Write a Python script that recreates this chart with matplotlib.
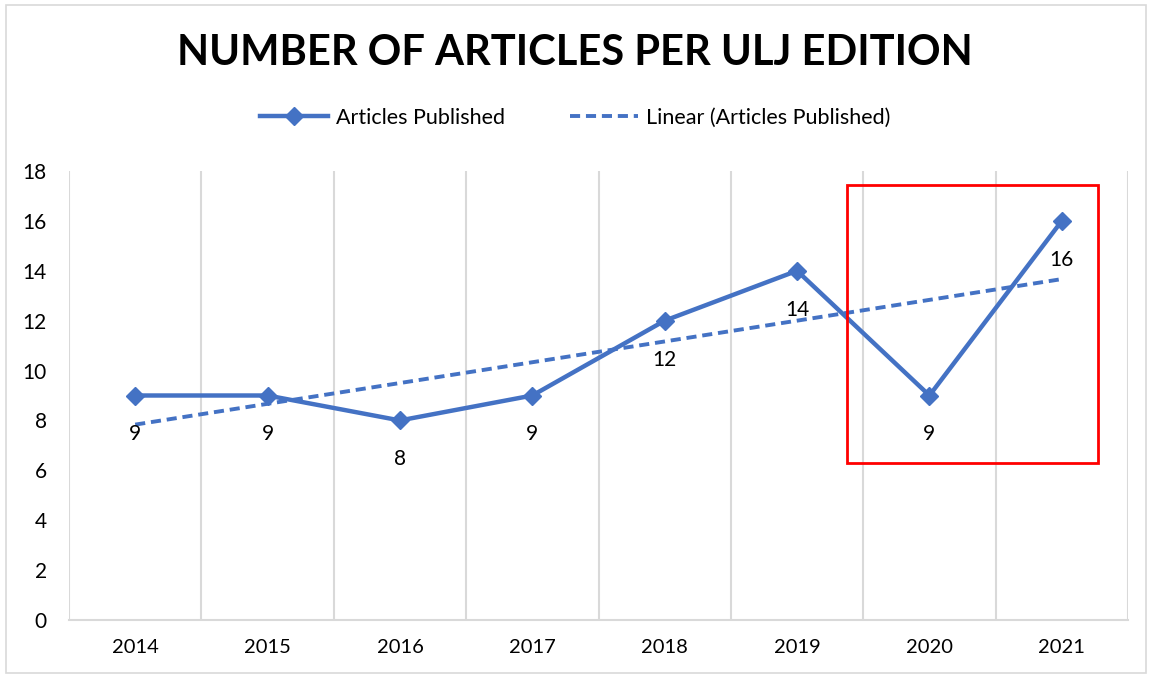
import matplotlib
matplotlib.use("Agg")
import matplotlib.pyplot as plt
from matplotlib.patches import Rectangle
from matplotlib.lines import Line2D
import numpy as np

years = ["2014", "2015", "2016", "2017", "2018", "2019", "2020", "2021"]
articles = [9, 9, 8, 9, 12, 14, 9, 16]
yticks = [0, 2, 4, 6, 8, 10, 12, 14, 16, 18]
title = "NUMBER OF ARTICLES PER ULJ EDITION"
series_name = "Articles Published"
trend_name = "Linear (Articles Published)"

BLUE = "#4472C4"
GRID = "#D9D9D9"
FONT = "Lato"

plt.rcParams["font.family"] = [FONT, "DejaVu Sans"]

fig = plt.figure(figsize=(11.5, 6.75), dpi=100)
ax = fig.add_axes([69/1150, 1-620/675, (1128-69)/1150, (620-171)/675])

x = np.arange(len(years))
coef = np.polyfit(x, articles, 1)
trend = np.polyval(coef, x)

DASH = (0, (2.6, 1.5))
ax.plot(x, trend, color=BLUE, lw=2.8, ls=DASH, zorder=3)
ax.plot(x, articles, color=BLUE, lw=3.2, marker="D", ms=9, zorder=4)

for xi, v in zip(x, articles):
    ax.annotate(str(v), (xi, v), xytext=(0, -28), textcoords="offset points",
                ha="center", va="center", fontsize=15, color="#000000", zorder=5)

ax.set_xlim(-0.5, len(years) - 0.5)
ax.set_ylim(0, 18)
ax.set_yticks(yticks)
ax.set_yticklabels([str(t) for t in yticks], fontsize=15)
ax.set_xticks(x)
ax.set_xticklabels(years, fontsize=14.5)
ax.tick_params(axis="both", length=0)
ax.tick_params(axis="y", pad=16)
ax.tick_params(axis="x", pad=14)

for b in np.arange(-0.5, len(years), 1.0):
    ax.axvline(b, color=GRID, lw=1.5, zorder=1)
for s in ["top", "right", "left"]:
    ax.spines[s].set_visible(False)
ax.spines["bottom"].set_color(GRID)
ax.spines["bottom"].set_linewidth(1.5)

# highlight rectangle
ax.add_patch(Rectangle((5.378, 6.29), 7.27 - 5.378, 17.44 - 6.29, fill=False,
                       edgecolor="#FF0000", lw=2, zorder=6, clip_on=False))

# title
fig.text(0.5, 1 - 53/675, title, ha="center", va="center", fontsize=30,
         fontweight="bold", color="#000000")

# legend
h1 = Line2D([], [], color=BLUE, lw=3.2, marker="D", ms=9)
h2 = Line2D([], [], color=BLUE, lw=2.8, ls=DASH)
fig.legend([h1, h2], [series_name, trend_name], loc="center",
           bbox_to_anchor=(0.5, 1 - 118/675), ncol=2, frameon=False,
           fontsize=15.5, handlelength=3.2, columnspacing=3.0, handletextpad=0.35)

# chart border
fig.add_artist(Rectangle((6/1150, 2/675), 1140/1150, 668/675, fill=False,
                         edgecolor=GRID, lw=1.2, transform=fig.transFigure))

fig.savefig("out.png", dpi=100)
